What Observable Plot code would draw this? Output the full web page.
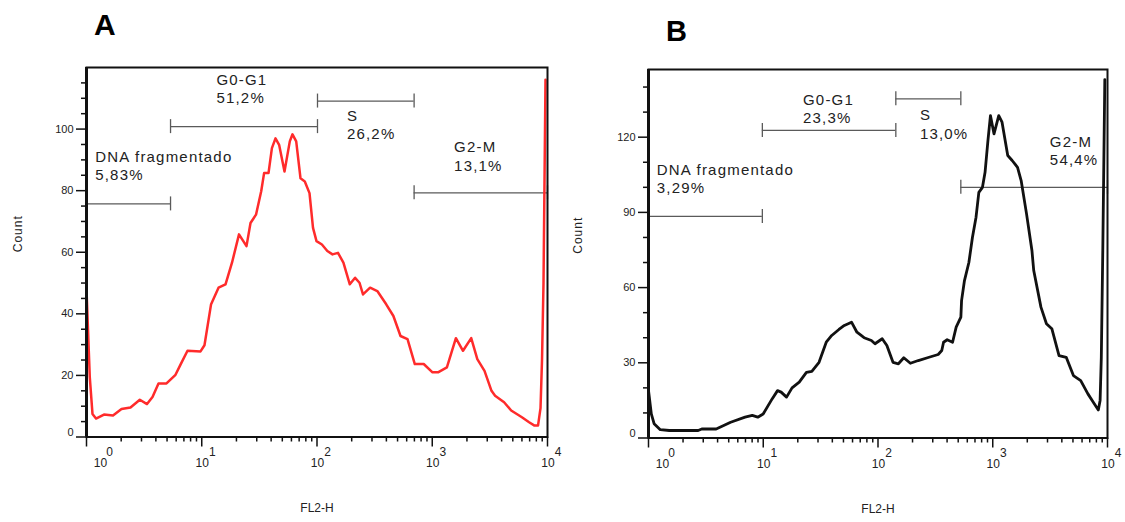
<!DOCTYPE html>
<html><head><meta charset="utf-8">
<script src="https://cdn.jsdelivr.net/npm/d3@7"></script>
<script src="https://cdn.jsdelivr.net/npm/@observablehq/plot@0.6"></script>
<style>
body{margin:0;background:#fff;}
#wrap{position:relative;width:1125px;height:522px;overflow:hidden;background:#fff;}
.panel{position:absolute;top:0;}
.letter{position:absolute;font-weight:bold;font-family:"Liberation Sans",Arial,sans-serif;color:#000;line-height:1;}
</style></head><body>
<div id="wrap">
  <div id="pa" class="panel" style="left:0px"></div>
  <div id="pb" class="panel" style="left:562px"></div>
  <div class="letter" style="left:94px;top:9.6px;font-size:30px">A</div>
  <div class="letter" style="left:666px;top:17.2px;font-size:29px">B</div>
</div>
<script>
// ---------- Panel A (red histogram) ----------
const flA = [1.0, 1.068, 1.127, 1.209, 1.418, 1.698, 2.012, 2.409, 2.901, 3.350, 3.739, 4.214, 4.944, 5.918, 6.542, 7.522, 9.755, 10.56, 12.03, 13.98, 16.08, 18.30, 21.05, 24.45, 26.49, 29.56, 32.80, 34.75, 37.95, 40.62, 43.64, 46.91, 52.24, 58.08, 61.29, 66.01, 71.93, 78.38, 86.09, 92.35, 99.01, 110.3, 122.9, 136.3, 152.1, 169.5, 192.6, 214.1, 233.8, 250.7, 288.9, 333.6, 398.6, 460.1, 530.4, 610.0, 705.8, 843.2, 1005, 1122, 1340, 1604, 1849, 2178, 2460, 2841, 3267, 3510, 4202, 4842, 5997, 6923, 7715, 8274, 8698, 8962, 9234, 9608];
const countA = [48, 19.4, 7.5, 6.0, 7.3, 7.0, 9.1, 9.6, 12.1, 10.7, 13, 17.4, 17.4, 20.2, 23.5, 28, 27.8, 29.8, 43, 48.5, 49.6, 56.6, 65.8, 62, 69.5, 72.2, 79.8, 85.7, 85.7, 93.8, 97, 94.9, 86.2, 96, 98.3, 96, 84, 83, 79.2, 67.9, 63.6, 62.5, 60.4, 59.3, 59.8, 56.6, 49.6, 51.7, 50.1, 46.3, 48.5, 47.4, 43.1, 39.3, 32.8, 31.8, 23.7, 23.7, 21, 21, 22.6, 32.1, 28, 32.1, 25.3, 21.5, 15, 13.4, 11.3, 8.6, 6.4, 4.8, 3.7, 3.7, 9.4, 25, 50, 116];
const gateBoundsA = [1, 5.36, 101, 696, 10000];
const gateLevelA = [75.7, 100.8, 109.1, 79.3];
const labelTextA = ["DNA fragmentado\n5,83%", "G0-G1\n51,2%", "S\n26,2%", "G2-M\n13,1%"];
const labelXA = [1.19, 13.4, 181.7, 1547];
const labelYA = [88.3, 113.3, 101.6, 91.4];
const yMajorA = [0, 20, 40, 60, 80, 100];
const yMinorA = [5, 10, 15, 25, 30, 35, 45, 50, 55, 65, 70, 75, 85, 90, 95, 105, 110, 115];

// ---------- Panel B (black histogram) ----------
const flB = [1.0, 1.058, 1.119, 1.267, 1.518, 2.710, 2.913, 3.888, 5.200, 6.943, 8.023, 8.956, 9.980, 11.95, 13.32, 14.32, 15.96, 17.82, 20.59, 23.78, 26.51, 30.63, 35.39, 39.52, 45.64, 50.87, 58.78, 65.52, 75.68, 87.59, 94.17, 108.8, 119.5, 135.1, 150.6, 167.8, 191.5, 224.4, 278.7, 334.5, 359.5, 372.7, 400.6, 446.5, 480.0, 527.4, 534.9, 566.9, 619.4, 665.6, 715.1, 756.5, 813.3, 857.0, 908.3, 955.0, 1026, 1128, 1205, 1351, 1476, 1644, 1768, 1970, 2195, 2276, 2630, 2937, 3272, 3780, 4368, 5047, 5843, 6751, 7520, 8317, 8621, 8831, 9099, 9474];
const countB = [19, 9.6, 5.7, 3.3, 3.0, 3.0, 3.6, 3.6, 6.3, 8.3, 9.0, 8.3, 9.6, 15.6, 18.9, 18.3, 16.3, 20, 22.3, 26.2, 26.6, 30.2, 38.2, 40.9, 43.3, 44.9, 46.2, 42.2, 40, 38.9, 37.6, 39.6, 36.9, 30.2, 29.6, 32, 29.8, 30.9, 32.2, 33.3, 34.9, 38.2, 39.2, 38.2, 44.2, 48.2, 54.8, 62.8, 70, 80.1, 88.1, 98, 100, 106, 118.7, 128.6, 121.3, 128.6, 126, 112.7, 110.7, 108, 102.7, 89.4, 74.8, 66.8, 52.2, 45.6, 43.6, 32.9, 32.2, 24.9, 22.9, 17.6, 14.3, 11.2, 15, 32, 75, 143];
const gateBoundsB = [1, 9.82, 143, 527, 10000];
const gateLevelB = [88.4, 122.7, 135.3, 100];
const labelTextB = ["DNA fragmentado\n3,29%", "G0-G1\n23,3%", "S\n13,0%", "G2-M\n54,4%"];
const labelXB = [1.18, 22.2, 231.7, 3144];
const labelYB = [103.7, 131.6, 125.4, 114.9];
const yMajorB = [0, 30, 60, 90, 120];
const yMinorB = [10, 20, 40, 50, 70, 80, 100, 110, 130, 140];

// ---------- shared axis ticks ----------
const decades = [1, 10, 100, 1000, 10000];
const decadeBase = ["10", "10", "10", "10", "10"];
const decadeExp = ["0", "1", "2", "3", "4"];
const xMinor = [2, 3, 4, 5, 6, 7, 8, 9, 20, 30, 40, 50, 60, 70, 80, 90, 200, 300, 400, 500, 600, 700, 800, 900, 2000, 3000, 4000, 5000, 6000, 7000, 8000, 9000];
const xAxisTitle = "FL2-H";
const yAxisTitle = "Count";

const SANS = "Liberation Sans, Arial, sans-serif";
const INK = "#111";

function panel(cfg) {
  const curve = cfg.fl.map((f, i) => ({fl: f, count: cfg.count[i]}));
  const gates = cfg.level.map((y, i) => ({x1: cfg.bounds[i], x2: cfg.bounds[i + 1], y}));
  const ends = gates.flatMap(g => [{x: g.x1, y: g.y}, {x: g.x2, y: g.y}]);
  const labels = cfg.labelText.map((t, i) => ({t, x: cfg.labelX[i], y: cfg.labelY[i]}));
  const yLab = cfg.yMajor.filter(v => v !== 0);
  const plot = Plot.plot({
    width: cfg.width, height: 522,
    marginLeft: 86, marginRight: cfg.marginRight, marginTop: cfg.marginTop, marginBottom: cfg.marginBottom,
    x: {type: "log", domain: [1, 10000]},
    y: {domain: cfg.yDomain},
    style: {fontFamily: SANS, color: INK, background: "transparent", overflow: "visible"},
    marks: [
      Plot.ruleY(gates, {x1: "x1", x2: "x2", y: "y", stroke: "#5a5a5a", strokeWidth: 1.3}),
      Plot.ruleX(ends, {x: "x", y1: "y", y2: "y", insetTop: -7, insetBottom: -7, stroke: "#5a5a5a", strokeWidth: 1.3}),
      Plot.text(labels, {x: "x", y: "y", text: "t", textAnchor: "start", lineAnchor: "middle", lineHeight: 1.22,
        fontSize: 15, fontFamily: SANS, fill: "#222"}),
      Plot.line(curve, {x: "fl", y: "count", stroke: cfg.color, strokeWidth: cfg.lineWidth, strokeLinejoin: "round"}),
      Plot.frame({stroke: INK, strokeWidth: 2}),
      Plot.ruleX([1], {stroke: INK, strokeWidth: 3}),
      // y axis
      Plot.axisY({ticks: cfg.yMajor, tickSize: 10, fill: "none", stroke: INK, strokeWidth: 1.5, label: null}),
      Plot.axisY({ticks: cfg.yMinor, tickSize: 5, fill: "none", stroke: INK, strokeWidth: 1.5, label: null}),
      Plot.axisY({ticks: yLab, tickSize: 0, tickPadding: 13, fill: "#222", fontSize: 11, label: null}),
      Plot.axisY({ticks: [0], tickSize: 0, tickPadding: 13, dy: -4.5, fill: "#222", fontSize: 11, label: null}),
      // x axis
      Plot.axisX({ticks: decades, tickSize: 10, fill: "none", stroke: INK, strokeWidth: 1.5, label: null}),
      Plot.axisX({ticks: xMinor, tickSize: 5, fill: "none", stroke: INK, strokeWidth: 1.5, label: null}),
      Plot.text(decades.slice(0, 1), {x: d => d, text: (d, i) => decadeBase[0], frameAnchor: "bottom", dy: 29.5, dx: 14, fontSize: 12, fill: "#222"}),
      Plot.text(decades.slice(1), {x: d => d, text: (d, i) => decadeBase[i + 1], frameAnchor: "bottom", dy: 29.5, dx: 0.5, fontSize: 12, fill: "#222"}),
      Plot.text(decades.slice(0, 1), {x: d => d, text: (d, i) => decadeExp[0], frameAnchor: "bottom", dy: 18.5, dx: 23, fontSize: 12, fill: "#222"}),
      Plot.text(decades.slice(1), {x: d => d, text: (d, i) => decadeExp[i + 1], frameAnchor: "bottom", dy: 18.5, dx: 10.5, fontSize: 12, fill: "#222"}),
      // axis titles
      Plot.text([xAxisTitle], {text: d => d, frameAnchor: "bottom", dy: 75, fontSize: 12, fill: "#222"}),
      Plot.text([yAxisTitle], {text: d => d, frameAnchor: "left", dx: cfg.countDx, rotate: -90, fontSize: 12, fill: "#222"})
    ]
  });
  const labelSet = new Set(cfg.labelText.map(t => t.replace("\n", "")));
  d3.select(plot).selectAll("text")
    .filter(function() { return labelSet.has(this.textContent); })
    .style("letter-spacing", "1.2px");
  d3.select(plot).selectAll("text")
    .filter(function() { return this.textContent === yAxisTitle; })
    .style("letter-spacing", "1px");
  return plot;
}

document.getElementById("pa").append(panel({
  width: 562, marginRight: 15, marginTop: 67, marginBottom: 85.5, yDomain: [0, 120],
  fl: flA, count: countA, bounds: gateBoundsA, level: gateLevelA,
  labelText: labelTextA, labelX: labelXA, labelY: labelYA,
  yMajor: yMajorA, yMinor: yMinorA, color: "#ff2b2b", lineWidth: 2.5, countDx: -68
}));
document.getElementById("pb").append(panel({
  width: 563, marginRight: 18, marginTop: 69, marginBottom: 84.5, yDomain: [0, 147],
  fl: flB, count: countB, bounds: gateBoundsB, level: gateLevelB,
  labelText: labelTextB, labelX: labelXB, labelY: labelYB,
  yMajor: yMajorB, yMinor: yMinorB, color: "#111", lineWidth: 2.8, countDx: -70
}));
</script>
</body></html>
